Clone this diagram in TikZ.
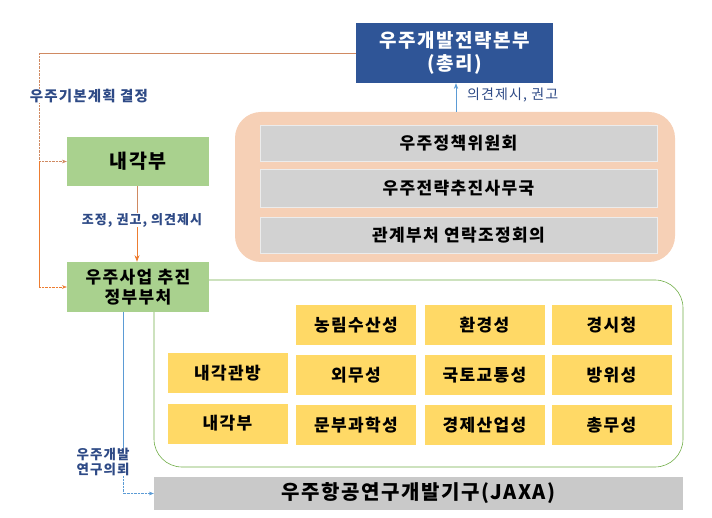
\documentclass[tikz,border=0pt]{standalone}
\usepackage{fontspec}
\setmainfont[LetterSpace=8]{Noto Sans CJK KR}
\usetikzlibrary{arrows.meta}

\definecolor{hqblue}{HTML}{2F5597}
\definecolor{textblue}{HTML}{2E4A86}
\definecolor{boxgreen}{HTML}{A9D18E}
\definecolor{linegreen}{HTML}{70AD47}
\definecolor{boxyellow}{HTML}{FFD966}
\definecolor{lineorange}{HTML}{ED7D31}
\definecolor{linebrown}{HTML}{D08A62}
\definecolor{arrowblue}{HTML}{5B9BD5}
\definecolor{peach}{HTML}{F6D0B6}
\definecolor{bargray}{HTML}{D2D2D2}
\definecolor{jaxagray}{HTML}{C9C9C9}

\begin{document}
\begin{tikzpicture}[x=1pt, y=-1pt, >=Stealth,
    every node/.style={inner sep=0pt, align=center},
    greenbox/.style={fill=boxgreen, minimum width=142pt, minimum height=49pt, font=\bfseries\fontsize{17}{19.5}\selectfont},
    barbox/.style={fill=bargray, draw=gray!15, minimum width=397pt, minimum height=36pt, font=\bfseries\fontsize{17}{20}\selectfont},
    ybox/.style={fill=boxyellow, minimum width=120pt, minimum height=40pt, font=\bfseries\fontsize{17}{20}\selectfont},
    lbl/.style={fill=white, text=textblue, font=\bfseries\fontsize{13}{15}\selectfont},
    orline/.style={draw=linebrown, thin},
    bline/.style={draw=arrowblue, thin}]
    \useasboundingbox (0,0) rectangle (712,518);

    % frames behind the boxes
    \node[fill=peach, rounded corners=26pt, minimum width=440pt, minimum height=150pt] (council) at (455,187) {};
    \node[draw=linegreen, semithick, rounded corners=28pt, minimum width=529pt, minimum height=187pt] (ministries) at (418.5,373.5) {};

    \node[fill=hqblue, text=white, minimum width=197pt, minimum height=60pt, font=\bfseries\fontsize{19}{23}\selectfont] (hq) at (454.5,53) {우주개발전략본부\\(총리)};
    \node[greenbox, font=\bfseries\fontsize{19.5}{22}\selectfont] (cab) at (138,161.5) {내각부};
    \node[greenbox, minimum height=50pt] (gov) at (138,287) {우주사업 추진\\정부부처};

    \node[barbox] (pol) at (458.5,143) {우주정책위원회};
    \node[barbox, minimum height=38pt] (sec) at (458.5,188) {우주전략추진사무국};
    \node[barbox] (liaison) at (458.5,235.5) {관계부처 연락조정회의};

    \node[ybox] (m1) at (356,325) {농림수산성};
    \node[ybox] (m2) at (484.5,325) {환경성};
    \node[ybox] (m3) at (611.5,325) {경시청};
    \node[ybox] (m4) at (227.5,373) {내각관방};
    \node[ybox] (m5) at (356,375) {외무성};
    \node[ybox] (m6) at (484.5,375) {국토교통성};
    \node[ybox] (m7) at (611.5,375) {방위성};
    \node[ybox] (m8) at (227.5,423.5) {내각부};
    \node[ybox] (m9) at (356,425) {문부과학성};
    \node[ybox] (m10) at (484.5,425) {경제산업성};
    \node[ybox] (m11) at (611.5,425) {총무성};

    \node[fill=jaxagray, minimum width=529pt, minimum height=33pt, font=\bfseries\fontsize{20}{23}\selectfont] (jaxa) at (418.5,493.5) {우주항공연구개발기구(JAXA)};

    % plan decision
    \coordinate (corner) at (39,53);
    \coordinate (split) at (39,161.5);
    \coordinate (low) at (39,287);
    \draw[orline] (hq.west) -- (corner);
    \draw[orline, densely dotted] (corner) -- (split);
    \node[lbl, font=\bfseries\fontsize{14.5}{16}\selectfont] (plan) at (89,96) {우주기본계획 결정};
    \draw[orline, densely dotted, ->] (split) -- (cab.west);
    \draw[lineorange, semithick] (split) -- (low);
    \draw[lineorange, densely dotted, ->] (low) -- (gov.west);

    % coordination
    \node[lbl] (coord) at (142,220) {조정, 권고, 의견제시};
    \draw[orline] (cab.south -| 137,0) -- (coord.north -| 137,0);
    \draw[lineorange, thick, ->] (coord.south -| 137,0) -- (gov.north -| 137,0);

    % advice to hq
    \draw[bline, semithick, ->] (council.north -| 456,0) -- (hq.south -| 456,0);
    \node[anchor=west, text=textblue, font=\fontsize{14}{16}\selectfont] (advice) at (467,95) {의견제시, 권고};

    % research request
    \coordinate (bend) at (123,493.5);
    \node[lbl, font=\bfseries\fontsize{13.5}{15}\selectfont] (req) at (103,462) {우주개발\\연구의뢰};
    \draw[bline] (gov.south -| bend) -- (req.north -| bend);
    \draw[bline, densely dotted, ->] (req.south -| bend) -- (bend) -- (jaxa.west);
\end{tikzpicture}
\end{document}
